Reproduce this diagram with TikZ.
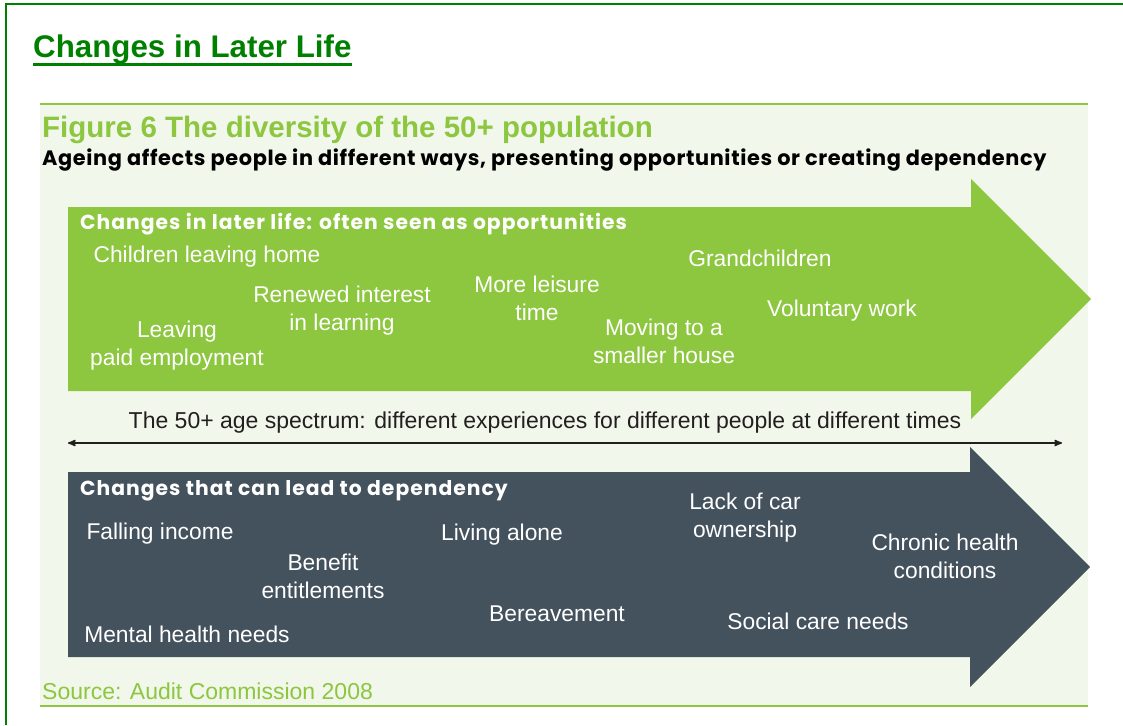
\documentclass[tikz,border=0pt]{standalone}
\usepackage{fontspec}
\setmainfont{Liberation Sans}
\newfontfamily\headfont[LetterSpace=5]{Poppins}
\newfontfamily\subfont[LetterSpace=3]{Poppins}
\usetikzlibrary{arrows,positioning}
\definecolor{titlegreen}{HTML}{008000}
\definecolor{leafgreen}{HTML}{8DC63F}
\definecolor{palegreen}{HTML}{F1F7EA}
\definecolor{slate}{HTML}{44525E}
\definecolor{ink}{HTML}{231F20}

\begin{document}
\begin{tikzpicture}[x=1pt,y=-1pt,>=stealth',
                    item/.style={text=white,align=center,inner sep=0pt,
                                 font=\fontsize{22.8}{28}\selectfont},
                    heading/.style={text=white,anchor=west,inner sep=0pt,
                                    font=\headfont\bfseries\fontsize{20.3}{24}\selectfont}]
  \tikzstyle{bigarrow}=[draw=none]
  \useasboundingbox (0,0) rectangle (1123,725);
  \fill[white] (0,0) rectangle (1123,725);

  % frame and title
  \draw[titlegreen,line width=2pt] (6,725) -- (6,4) -- (1123,4);
  \node[anchor=base west,inner sep=0pt,text=titlegreen,
        font=\bfseries\fontsize{31.3}{36}\selectfont] (title) at (33,57) {Changes in Later Life};
  \draw[titlegreen,line width=3pt] (title.south west) ++(0,1) coordinate (ul) -- (ul -| title.south east);

  % figure panel
  \fill[palegreen] (40,104) rectangle (1088,706);
  \draw[leafgreen,line width=1.5pt] (40,104) -- (1088,104);
  \draw[leafgreen,line width=1.5pt] (40,706) -- (1088,706);
  \node[anchor=base west,inner sep=0pt,text=leafgreen,
        font=\bfseries\fontsize{29.5}{33}\selectfont] (figtitle) at (42,137) {Figure 6 The diversity of the 50+ population};
  \node[anchor=base west,inner sep=0pt,text=black,
        font=\subfont\bfseries\fontsize{20.85}{25}\selectfont] (subtitle) at (42,165) {Ageing affects people in different ways, presenting opportunities or creating dependency};

  % opportunities arrow
  \fill[leafgreen] (68,207) -- (971,207) -- (971,179) -- (1091,299) -- (971,419) -- (971,391) -- (68,391) -- cycle;
  \node[heading] (opp) at (80,224) {Changes in later life: often seen as opportunities};
  \node[item] (children)  at (207,257) {Children leaving home};
  \node[item] (learning)  at (342,311) {Renewed interest\\in learning};
  \node[item] (leaving)   at (177,346) {Leaving\\paid employment};
  \node[item] (leisure)   at (537,298) {More leisure\\time};
  \node[item] (grand)     at (760,258) {Grandchildren};
  \node[item] (moving)    at (664,341) {Moving to a\\smaller house};
  \node[item] (voluntary) at (842,311) {Voluntary work};

  % age spectrum
  \node[inner sep=0pt,text=ink,font=\fontsize{23}{27}\selectfont] (spectrum) at (545,423)
       {The 50+ age spectrum: different experiences for different people at different times};
  \coordinate (young) at (68,443);
  \coordinate (old) at (1062,443);
  \draw[<->,ink,line width=1.6pt] (young) -- (old);

  % dependency arrow
  \fill[slate] (68,472) -- (970,472) -- (970,447) -- (1090,567) -- (970,687) -- (970,657) -- (68,657) -- cycle;
  \node[heading] (dep) at (80,491) {Changes that can lead to dependency};
  \node[item] (income)   at (160,534) {Falling income};
  \node[item] (benefit)  at (323,576) {Benefit\\entitlements};
  \node[item] (alone)    at (502,535) {Living alone};
  \node[item] (bereave)  at (557,614) {Bereavement};
  \node[item] (mental)   at (187,634) {Mental health needs};
  \node[item] (car)      at (745,518) {Lack of car\\ownership};
  \node[item] (chronic)  at (945,556) {Chronic health\\conditions};
  \node[item] (social)   at (818,621) {Social care needs};

  % source
  \node[anchor=base west,inner sep=0pt,text=leafgreen,
        font=\fontsize{23}{27}\selectfont] (source) at (42,699) {Source: Audit Commission 2008};
\end{tikzpicture}
\end{document}
